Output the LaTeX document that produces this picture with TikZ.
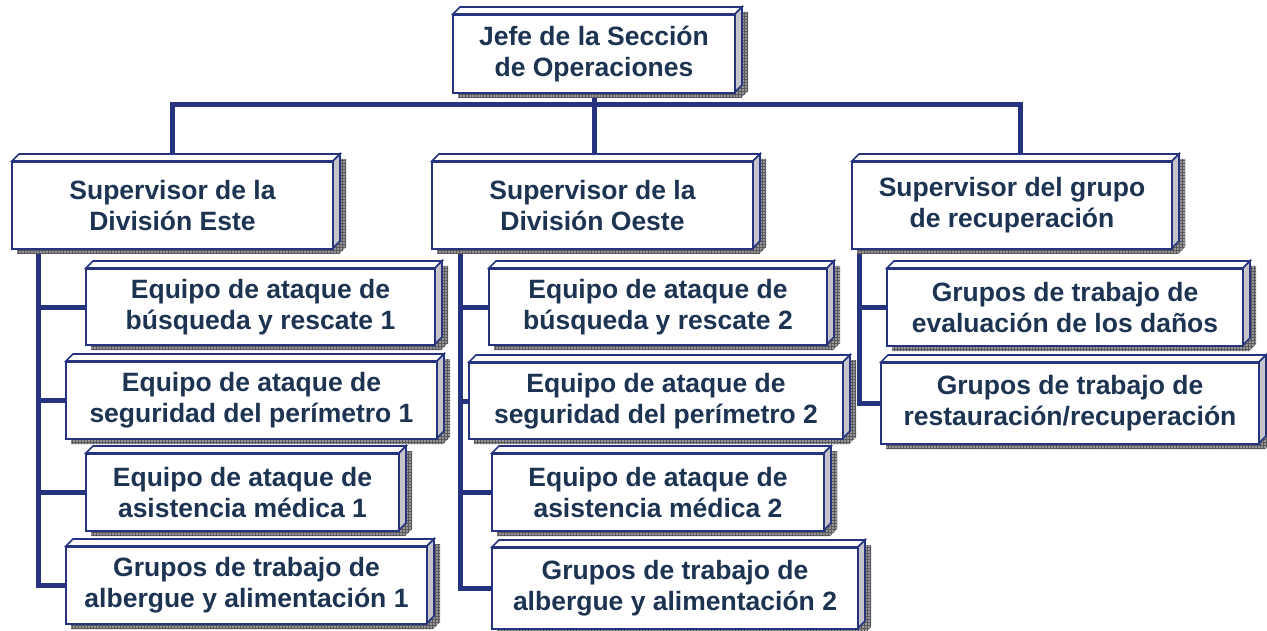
\documentclass[tikz,border=0pt]{standalone}
\usepackage{fontspec}
\setmainfont{Liberation Sans}
\usetikzlibrary{backgrounds,patterns}
\definecolor{navy}{RGB}{38,52,128}
\definecolor{txtc}{RGB}{28,52,82}
\definecolor{sidec}{RGB}{196,196,202}
\definecolor{shadc}{RGB}{150,150,156}
\tikzset{
  ocnode/.style={draw=navy, line width=2.4pt, fill=white, inner sep=0pt, outer sep=0pt,
    align=center, text=txtc, font=\fontsize{26.5}{31}\selectfont\bfseries},
  ocface/.style={draw=navy, line width=1.6pt, line join=miter},
  conn/.style={draw=navy, line width=5pt, line join=miter}
}
\newcommand\ocbox[6]{%
  \pgfmathsetmacro\ocw{#4-#2}%
  \pgfmathsetmacro\och{#5-#3}%
  \fill[shadc] (#2+5,#5+6) -- (#2+5,#3+5) -- (#2+12,#3-2) -- (#4+13,#3-2) -- (#4+13,#5-1) -- (#4+6,#5+6) -- cycle;
  \fill[pattern=grid, pattern color=gray!70!black] (#2+5,#5+6) -- (#2+5,#3+5) -- (#2+12,#3-2) -- (#4+13,#3-2) -- (#4+13,#5-1) -- (#4+6,#5+6) -- cycle;
  \filldraw[ocface, fill=white] (#2,#3) -- (#2+7,#3-7) -- (#4+7,#3-7) -- (#4,#3) -- cycle;
  \filldraw[ocface, fill=sidec] (#4,#3) -- (#4+7,#3-7) -- (#4+7,#5-7) -- (#4,#5) -- cycle;
  \node[ocnode, minimum width=\ocw pt, minimum height=\och pt] (#1) at ({(#2+#4)/2},{(#3+#5)/2+1}) {#6};
}
\begin{document}
\begin{tikzpicture}[x=1pt,y=-1pt]
\useasboundingbox (0,0) rectangle (1267,631);
\ocbox{top}{453}{14}{735}{92}{Jefe de la Sección\\de Operaciones}
\ocbox{este}{12}{161}{333}{248}{Supervisor de la\\División Este}
\ocbox{oeste}{432}{161}{753}{248}{Supervisor de la\\División Oeste}
\ocbox{rec}{852}{161}{1172}{248}{Supervisor del grupo\\de recuperación}
\ocbox{e1}{86}{268}{435}{344}{Equipo de ataque de\\búsqueda y rescate 1}
\ocbox{e2}{66}{361}{437}{438}{Equipo de ataque de\\seguridad del perímetro 1}
\ocbox{e3}{86}{453}{399}{530}{Equipo de ataque de\\asistencia médica 1}
\ocbox{e4}{66}{546}{427}{623}{Grupos de trabajo de\\albergue y alimentación 1}
\ocbox{w1}{489}{268}{827}{344}{Equipo de ataque de\\búsqueda y rescate 2}
\ocbox{w2}{469}{362}{843}{438}{Equipo de ataque de\\seguridad del perímetro 2}
\ocbox{w3}{492}{453}{824}{530}{Equipo de ataque de\\asistencia médica 2}
\ocbox{w4}{492}{547}{858}{628}{Grupos de trabajo de\\albergue y alimentación 2}
\ocbox{r1}{887}{268}{1243}{345}{Grupos de trabajo de\\evaluación de los daños}
\ocbox{r2}{881}{362}{1259}{443}{Grupos de trabajo de\\restauración/recuperación}
\begin{scope}[on background layer]
  \draw[conn] (top.south) -- (top.south |- oeste.north);
  \coordinate (recdrop) at ([xshift=8pt]rec.north);
  \draw[conn] (este.north) -- ++(0,-57) -| (recdrop);
  \coordinate (es) at ([xshift=26pt]este.south west);
  \coordinate (ws) at ([xshift=28pt]oeste.south west);
  \coordinate (rs) at ([xshift=7pt]rec.south west);
  \draw[conn] (es) |- (e4.west);
  \foreach \c in {e1,e2,e3} \draw[conn] (es |- \c.west) -- (\c.west);
  \draw[conn] (ws) |- (w4.west);
  \foreach \c in {w1,w2,w3} \draw[conn] (ws |- \c.west) -- (\c.west);
  \draw[conn] (rs) |- (r2.west);
  \draw[conn] (rs |- r1.west) -- (r1.west);
\end{scope}
\end{tikzpicture}
\end{document}
